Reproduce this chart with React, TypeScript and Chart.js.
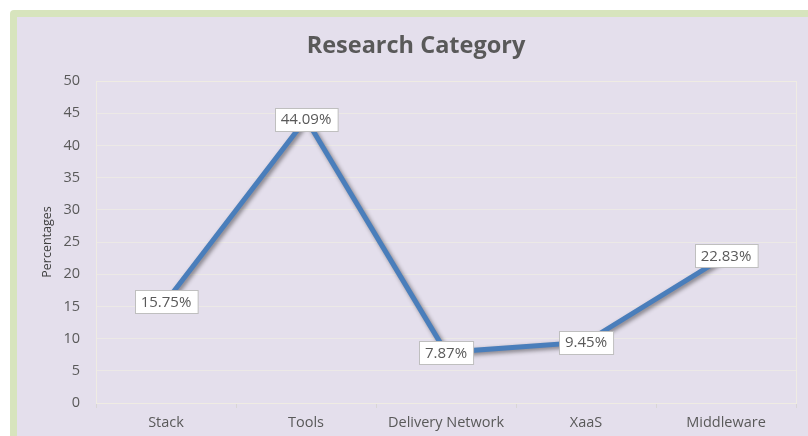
import React, { useEffect, useRef } from "react";
import { Chart, registerables } from "chart.js";

Chart.register(...registerables);

const categories = ["Stack", "Tools", "Delivery Network", "XaaS", "Middleware"];
const percentages = [15.75, 44.09, 7.87, 9.45, 22.83];
const valueLabels = ["15.75%", "44.09%", "7.87%", "9.45%", "22.83%"];
const chartTitle = "Research Category";
const yAxisTitle = "Percentages";

const FONT = "'Open Sans', 'Noto Sans', sans-serif";

const framePlugin = {
  id: "frame",
  beforeDraw(chart: any) {
    const { ctx, width, height } = chart;
    ctx.save();
    ctx.fillStyle = "#ffffff";
    ctx.fillRect(0, 0, width, height);
    ctx.fillStyle = "#d7e4bd";
    ctx.beginPath();
    (ctx as any).roundRect(10, 10, width + 20, height + 20, 4);
    ctx.fill();
    ctx.fillStyle = "#e4dfec";
    ctx.fillRect(17, 17, width, height);
    // title
    ctx.fillStyle = "#595959";
    ctx.font = `bold 23.5px ${FONT}`;
    ctx.textAlign = "center";
    ctx.textBaseline = "middle";
    ctx.fillText(chartTitle, 416, 46);
    ctx.restore();
  },
  beforeDatasetsDraw(chart: any) {
    const { ctx, chartArea } = chart;
    ctx.save();
    ctx.strokeStyle = "#efece3";
    ctx.lineWidth = 1;
    ctx.strokeRect(chartArea.left + 0.5, chartArea.top + 0.5, chartArea.right - chartArea.left, chartArea.bottom - chartArea.top);
    ctx.restore();
  },
  beforeDatasetDraw(chart: any) {
    const ctx = chart.ctx;
    ctx.save();
    ctx.shadowColor = "rgba(0,0,0,0.45)";
    ctx.shadowBlur = 4;
    ctx.shadowOffsetX = 2;
    ctx.shadowOffsetY = 2;
  },
  afterDatasetDraw(chart: any) {
    chart.ctx.restore();
  },
  afterDatasetsDraw(chart: any) {
    const { ctx } = chart;
    const meta = chart.getDatasetMeta(0);
    ctx.save();
    ctx.font = `15px ${FONT}`;
    ctx.textAlign = "center";
    ctx.textBaseline = "middle";
    meta.data.forEach((pt: any, i: number) => {
      const text = valueLabels[i];
      const w = ctx.measureText(text).width + 12;
      const h = 23;
      const x = Math.round(pt.x - w / 2) + 0.5;
      const y = Math.round(pt.y - h / 2) + 0.5;
      ctx.fillStyle = "#ffffff";
      ctx.fillRect(x, y, w, h);
      ctx.strokeStyle = "#bfbfbf";
      ctx.lineWidth = 1;
      ctx.strokeRect(x, y, w, h);
      ctx.fillStyle = "#595959";
      ctx.fillText(text, pt.x, pt.y + 1);
    });
    ctx.restore();
  },
};

export default function App() {
  const ref = useRef<HTMLCanvasElement>(null);
  useEffect(() => {
    if (!ref.current) return;
    const chart = new Chart(ref.current, {
      type: "line",
      data: {
        labels: categories,
        datasets: [
          {
            data: percentages,
            borderColor: "#4a7ebb",
            borderWidth: 5,
            pointRadius: 0,
            tension: 0,
            fill: false,
          },
        ],
      },
      options: {
        responsive: false,
        animation: false,
        layout: { padding: { left: 40, right: 12, top: 81, bottom: 0 } },
        plugins: {
          legend: { display: false },
          title: { display: false },
          tooltip: { enabled: false },
        },
        scales: {
          x: {
            offset: true,
            grid: {
              offset: true,
              drawOnChartArea: false,
              drawTicks: true,
              tickLength: 5,
              color: "#d9d6d6",
            },
            border: { display: true, color: "#efece3" },
            ticks: { color: "#595959", font: { family: FONT, size: 14.5 }, padding: 6, maxRotation: 0 },
            afterFit: (s: any) => {
              s.height = 33;
            },
          },
          y: {
            min: 0,
            max: 50,
            ticks: { stepSize: 5, color: "#595959", font: { family: FONT, size: 14.5 }, padding: 16 },
            grid: { color: "#ece9e6", drawTicks: false },
            border: { display: false },
            title: {
              display: true,
              text: yAxisTitle,
              color: "#404040",
              font: { family: FONT, size: 12.5 },
              padding: 0,
            },
            afterFit: (s: any) => {
              s.width = 56;
            },
          },
        },
      },
      plugins: [framePlugin],
    });
    return () => chart.destroy();
  }, []);
  return (
    <div style={{ position: "fixed", left: 0, top: 0, width: 808, height: 436 }}>
      <canvas ref={ref} width={808} height={436} style={{ display: "block" }} />
    </div>
  );
}
